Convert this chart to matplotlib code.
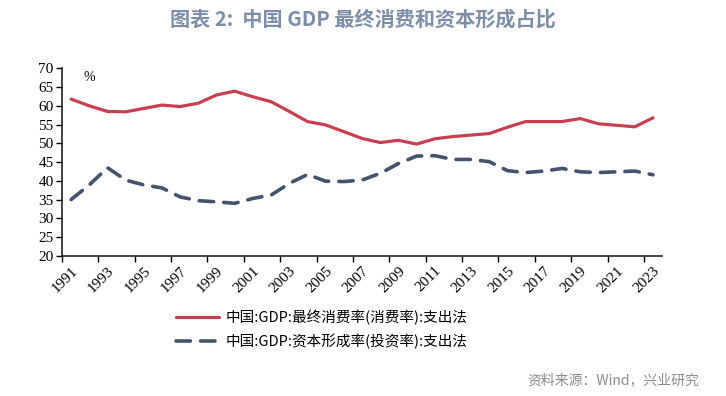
import numpy as np
import matplotlib
matplotlib.use('Agg')
import matplotlib.pyplot as plt

plt.rcParams['font.family'] = ['Noto Sans CJK SC', 'DejaVu Sans']

# DANE
lata = list(range(1991, 2024))
konsumpcja = [61.8, 60.0, 58.5, 58.4, 59.3, 60.2, 59.8, 60.7, 62.9, 63.9,
              62.4, 61.1, 58.5, 55.8, 54.9, 53.1, 51.3, 50.2, 50.8, 49.8,
              51.2, 51.8, 52.2, 52.6, 54.3, 55.8, 55.8, 55.8, 56.6, 55.2,
              54.8, 54.4, 56.8]
inwestycje = [35.0, 38.9, 43.5, 40.2, 38.9, 38.1, 35.7, 34.7, 34.4, 34.0,
              35.3, 36.2, 39.3, 41.7, 39.9, 39.8, 40.2, 42.0, 44.6, 46.6,
              46.7, 45.7, 45.7, 45.1, 42.7, 42.2, 42.6, 43.3, 42.4, 42.2,
              42.4, 42.6, 41.6]
etykiety_lat = [str(r) for r in lata]
tytul = '图表 2:  中国 GDP 最终消费和资本形成占比'
nazwa_1 = '中国:GDP:最终消费率(消费率):支出法'
nazwa_2 = '中国:GDP:资本形成率(投资率):支出法'
zrodlo = '资料来源：Wind，兴业研究'

czerwony = '#C8404F'
niebieski = '#44546E'

fig = plt.figure(figsize=(7.26, 3.96), dpi=100)
ax = fig.add_axes([0.0854, 0.354, 0.8266, 0.4735])

x = np.arange(len(lata))
l1, = ax.plot(x, konsumpcja, color=czerwony, lw=2.3, solid_capstyle='round')
l2, = ax.plot(x, inwestycje, color=niebieski, lw=2.6, dashes=(4.0, 2.8),
              dash_capstyle='round')

ax.set_xlim(-0.35, len(lata) - 0.5)
ax.set_ylim(20, 70)
ax.set_yticks(range(20, 71, 5))

# ticki miedzy kategoriami, etykiety w srodku kategorii
ax.set_xticks(np.arange(-0.5, len(lata) - 0.5, 2))
ax.set_xticklabels([])
ax.set_xticks(x[::2], minor=True)
ax.set_xticklabels(etykiety_lat[::2], minor=True, rotation=45, ha='right',
                   rotation_mode='anchor', family='Liberation Serif', fontsize=11)
ax.tick_params(axis='x', which='minor', length=0, pad=6)
ax.tick_params(axis='x', which='major', length=4, width=1, direction='out')
ax.tick_params(axis='y', length=4, width=1, direction='out', pad=2)
for t in ax.get_yticklabels():
    t.set_family('Liberation Serif')
    t.set_fontsize(11)

for s in ['top', 'right']:
    ax.spines[s].set_visible(False)
for s in ['left', 'bottom']:
    ax.spines[s].set_linewidth(1.2)
    ax.spines[s].set_color('#222222')

ax.text(0.035, 0.985, '%', transform=ax.transAxes, family='Liberation Serif',
        fontsize=10, va='top', ha='left')

fig.text(0.5, 0.953, tytul, ha='center', va='center', fontsize=14.5,
         fontweight='bold', color='#7D8FA8')

fig.legend([l1, l2], [nazwa_1, nazwa_2], loc='upper left',
           bbox_to_anchor=(0.234, 0.232), frameon=False, fontsize=10.5,
           handlelength=3.0, handletextpad=0.4, labelspacing=0.6,
           borderaxespad=0)

fig.text(0.963, 0.04, zrodlo, ha='right', va='center', fontsize=10,
         color='#8C8C8C')

fig.savefig('out.png', dpi=100)
